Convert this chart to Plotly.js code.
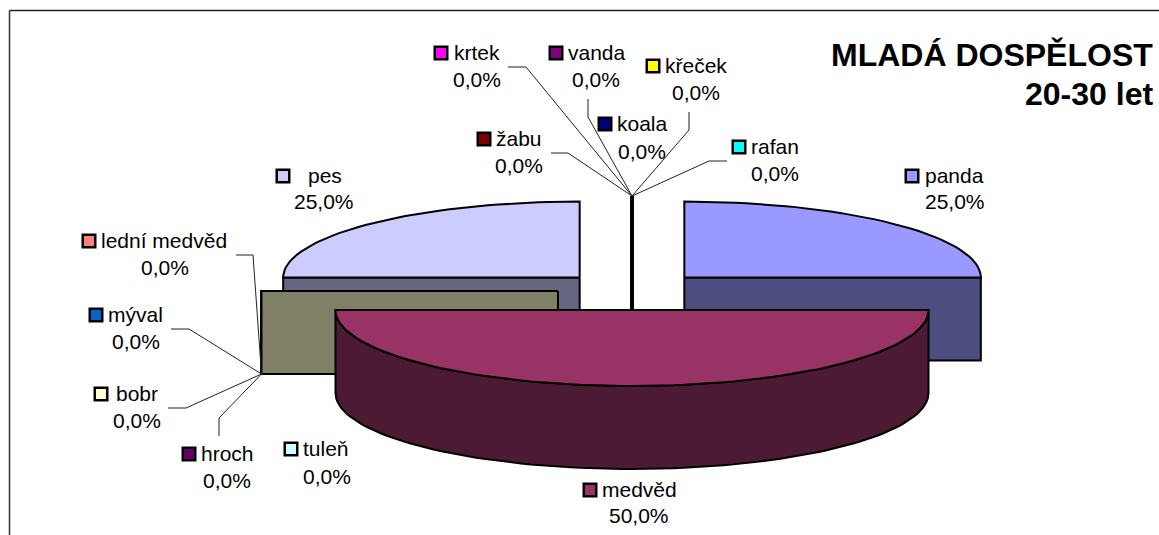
<!DOCTYPE html>
<html><head><meta charset="utf-8">
<script src="https://cdn.plot.ly/plotly-3.0.1.min.js"></script>
<style>html,body{margin:0;padding:0;background:#fff}#c{width:1159px;height:535px}</style>
</head><body><div id="c"></div>
<script>
// --- data ---
const categories = ['panda','medvěd','tuleň','hroch','mýval','lední medvěd','bobr','pes','žabu','krtek','vanda','křeček','koala','rafan'];
const values     = [25,50,0,0,0,0,0,25,0,0,0,0,0,0];
const colors     = ['#9999FF','#993366','#CCFFFF','#660066','#0066CC','#FF8080','#FFFFCC','#CCCCFF','#800000','#FF00FF','#800080','#FFFF00','#000080','#00FFFF'];
const titleLines = ['MLADÁ DOSPĚLOST','20-30 let'];

// --- layout of the drawing ---
const W=1159,H=535;
const cx=632,cy=291,rx=296.5,ry=76,depth=83,explode=74;
const k=ry/rx;
// label placement: key x, name x, key/name y, percent x, percent y, optional leader elbow pts
const labelPos={
 'krtek':[441,452,53,477,80,[[508,67],[526,67]]],
 'vanda':[556,566,53,596,80,[[588,99],[588,117]]],
 'křeček':[653,663,66,696,93,[[689,112],[689,130]]],
 'koala':[605,615,124,642,152,null],
 'žabu':[484,494,139,519,166,[[551,153],[568,153]]],
 'rafan':[739,749,147,775,174,[[727,161],[709,161]]],
 'panda':[912,923,176,955,202,null],
 'pes':[283,306,176,324,202,null],
 'lední medvěd':[89,99,241,165,268,[[236,255],[253,255]]],
 'mýval':[96,106,315,136,342,[[171,329],[189,329]]],
 'bobr':[101,114,394,137,421,[[168,408],[186,408]]],
 'hroch':[189,199,454,227,481,[[219,436],[219,418]]],
 'tuleň':[291,301,449,327,477,null],
 'medvěd':[590,600,490,639,516,null]
};
const textLift=1;

const total=values.reduce((a,b)=>a+b,0);
const rad=d=>d*Math.PI/180;
function halve(hex){
  const n=parseInt(hex.slice(1),16);
  const f=v=>Math.round(v/2).toString(16).padStart(2,'0');
  return '#'+f(n>>16&255)+f(n>>8&255)+f(n&255);
}
let acc=0;
const slices=categories.map((name,i)=>{
  const a0=acc/total*360; acc+=values[i]; const a1=acc/total*360;
  const mid=(a0+a1)/2;
  return {name,i,a0,a1,
    ox:cx+explode*Math.sin(rad(mid)),
    oy:cy-explode*k*Math.cos(rad(mid))};
});
const pt=(s,a,dz=0)=>[s.ox+rx*Math.sin(rad(a)),s.oy-ry*Math.cos(rad(a))+dz];
function poly(pts,fill,lw){
  return {type:'scatter',mode:'lines',x:pts.map(p=>p[0]),y:pts.map(p=>p[1]),
    fill:'toself',fillcolor:fill,line:{color:'#000',width:lw,shape:'linear'},hoverinfo:'skip',showlegend:false};
}
function arc(s,a,b,dz=0){const o=[];const n=Math.max(1,Math.ceil(Math.abs(b-a)/2));
  for(let j=0;j<=n;j++)o.push(pt(s,a+(b-a)*j/n,dz));return o;}
function face(s,a){
  const p=pt(s,a),c=[s.ox,s.oy];
  return [c,p,[p[0],p[1]+depth],[c[0],c[1]+depth],c];
}
const traces=[];
slices.slice().sort((p,q)=>p.oy-q.oy).forEach(s=>{
  const col=colors[s.i],dark=halve(col);
  const zero=s.a0===s.a1;
  if(zero){ traces.push(poly(face(s,s.a0),dark,s.a0===360?3:2)); return; }
  if(s.a1>0&&s.a1<=180) traces.push(poly(face(s,s.a1),dark,2));
  if(s.a0>=180&&s.a0<360) traces.push(poly(face(s,s.a0),dark,2));
  const lo=Math.max(s.a0,90),hi=Math.min(s.a1,270);
  if(hi>lo){
    const front=arc(s,lo,hi).concat(arc(s,hi,lo,depth));
    front.push(front[0]);
    traces.push(poly(front,dark,2));
  }
  const top=[[s.ox,s.oy]].concat(arc(s,s.a0,s.a1));top.push([s.ox,s.oy]);
  traces.push(poly(top,col,2));
});

// leader lines converge on the outer tip of the zero-size slices:
// the west group meets the lower corner of its face, the north group its top
const leaderX=[],leaderY=[];
slices.forEach(s=>{
  const lp=labelPos[s.name];
  if(!lp||!lp[5]) return;
  const tip=pt(s,s.a0,s.a0===360?0:depth);
  lp[5].forEach(q=>{leaderX.push(q[0]);leaderY.push(q[1]);});
  leaderX.push(tip[0],null);leaderY.push(tip[1],null);
});
traces.push({type:'scatter',mode:'lines',x:leaderX,y:leaderY,line:{color:'#222',width:1},hoverinfo:'skip',showlegend:false});

// legend keys
traces.push({type:'scatter',mode:'markers',
  x:categories.map(c=>labelPos[c][0]),y:categories.map(c=>labelPos[c][2]),
  marker:{symbol:'square',size:12.5,color:colors,line:{color:'#000',width:2.5}},
  hoverinfo:'skip',showlegend:false});

const font={family:'"Liberation Sans",Arial,sans-serif',size:21,color:'#000'};
const annotations=[];
categories.forEach((c,i)=>{
  const lp=labelPos[c];
  annotations.push({x:lp[1],y:lp[2]-textLift,xref:'x',yref:'y',text:c,showarrow:false,xanchor:'left',yanchor:'middle',font});
  annotations.push({x:lp[3],y:lp[4]-textLift,xref:'x',yref:'y',text:(values[i]/total*100).toFixed(1).replace('.',',')+'%',showarrow:false,xanchor:'center',yanchor:'middle',font});
});
const tf={family:'"Liberation Sans",Arial,sans-serif',size:32,color:'#000',weight:700};
annotations.push({x:1155,y:55,xref:'x',yref:'y',text:'<b>'+titleLines[0]+'</b>',showarrow:false,xanchor:'right',yanchor:'middle',font:tf});
annotations.push({x:1155,y:94,xref:'x',yref:'y',text:'<b>'+titleLines[1]+'</b>',showarrow:false,xanchor:'right',yanchor:'middle',font:tf});

const layout={width:W,height:H,margin:{l:0,r:0,t:0,b:0},paper_bgcolor:'#fff',plot_bgcolor:'#fff',showlegend:false,
  xaxis:{range:[0,W],visible:false,fixedrange:true},
  yaxis:{range:[H,0],visible:false,fixedrange:true},
  annotations,
  shapes:[
   {type:'line',xref:'x',yref:'y',x0:9.5,x1:9.5,y0:10.5,y1:H,line:{color:'#333',width:1.5}},
   {type:'line',xref:'x',yref:'y',x0:9.5,x1:W,y0:10.5,y1:10.5,line:{color:'#222',width:1.5}}
  ]};
Plotly.newPlot('c',traces,layout,{displayModeBar:false,staticPlot:true});
</script></body></html>
